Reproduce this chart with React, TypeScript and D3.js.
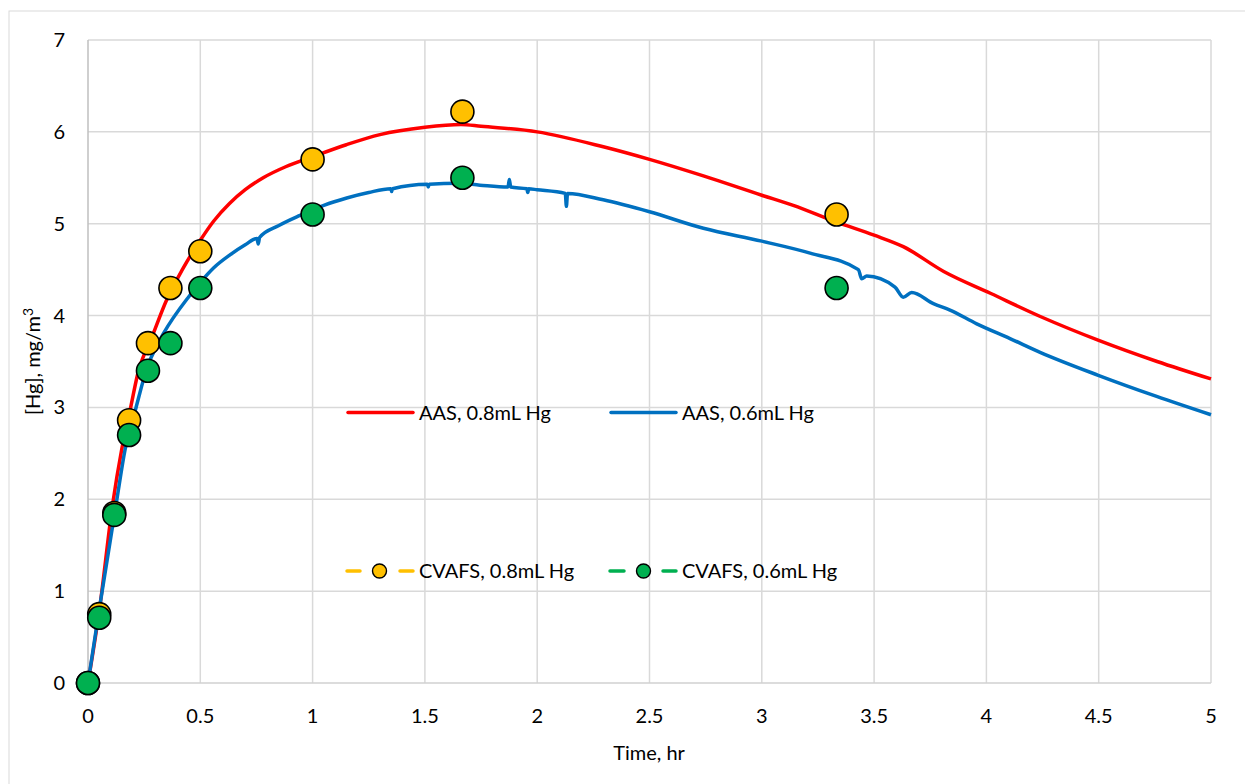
import React from "react";
import * as d3 from "d3";

// AAS continuous traces (time in hours, concentration in mg/m3)
const aas08Time = [0, 0.05, 0.11, 0.15, 0.19, 0.22, 0.29, 0.35, 0.42, 0.5, 0.56, 0.63, 0.7, 0.78, 0.88, 0.99, 1.15, 1.3, 1.5, 1.66, 1.75, 2.0, 2.29, 2.5, 2.74, 3.0, 3.14, 3.33, 3.5, 3.63, 3.81, 4.02, 4.24, 4.5, 4.76, 5.0];
const aas08Conc = [0, 0.78, 1.95, 2.54, 3.0, 3.35, 3.8, 4.17, 4.5, 4.82, 5.03, 5.22, 5.37, 5.5, 5.62, 5.72, 5.86, 5.97, 6.05, 6.08, 6.06, 6.0, 5.84, 5.7, 5.52, 5.31, 5.2, 5.02, 4.875, 4.75, 4.48, 4.24, 3.99, 3.73, 3.5, 3.31];

const aas06Time = [0, 0.05, 0.128, 0.165, 0.214, 0.264, 0.313, 0.335, 0.447, 0.5, 0.56, 0.632, 0.7, 0.752, 0.758, 0.764, 0.85, 0.944, 1.05, 1.152, 1.25, 1.348, 1.352, 1.356, 1.511, 1.515, 1.519, 1.65, 1.745, 1.87, 1.876, 1.882, 1.954, 1.958, 1.962, 2.0, 2.125, 2.13, 2.135, 2.294, 2.5, 2.74, 3.0, 3.215, 3.43, 3.445, 3.467, 3.593, 3.63, 3.667, 3.764, 3.838, 3.957, 4.105, 4.239, 4.498, 4.758, 5.0];
const aas06Conc = [0, 0.8, 1.99, 2.54, 3.0, 3.44, 3.7, 3.8, 4.2, 4.36, 4.52, 4.66, 4.77, 4.84, 4.78, 4.85, 4.98, 5.09, 5.2, 5.28, 5.34, 5.38, 5.35, 5.38, 5.43, 5.40, 5.43, 5.44, 5.42, 5.40, 5.48, 5.40, 5.38, 5.34, 5.38, 5.37, 5.33, 5.19, 5.33, 5.26, 5.13, 4.95, 4.81, 4.68, 4.5, 4.4, 4.43, 4.31, 4.2, 4.25, 4.13, 4.06, 3.91, 3.75, 3.60, 3.35, 3.12, 2.92];

// CVAFS grab samples
const cvafsTime = [0, 0.05, 0.117, 0.183, 0.267, 0.367, 0.5, 1.0, 1.667, 3.333];
const cvafs08Conc = [0, 0.75, 1.85, 2.86, 3.7, 4.3, 4.7, 5.7, 6.22, 5.1];
const cvafs06Time = [0, 0.05, 0.117, 0.183, 0.267, 0.367, 0.5, 1.0, 1.667, 3.333];
const cvafs06Conc = [0, 0.71, 1.83, 2.7, 3.4, 3.7, 4.3, 5.1, 5.5, 4.3];

const xTicks = [0, 0.5, 1, 1.5, 2, 2.5, 3, 3.5, 4, 4.5, 5];
const yTicks = [0, 1, 2, 3, 4, 5, 6, 7];

const W = 1245;
const H = 784;
const FONT = "Lato, 'Open Sans', sans-serif";
const FS = 20;

export default function App() {
  const x = d3.scaleLinear().domain([0, 5]).range([88, 1211]);
  const y = d3.scaleLinear().domain([0, 7]).range([683, 40]);

  const line = d3
    .line<[number, number]>()
    .x((d) => x(d[0]))
    .y((d) => y(d[1]))
    .curve(d3.curveMonotoneX);

  const red = line(aas08Time.map((t, i) => [t, aas08Conc[i]] as [number, number])) || "";
  const blue = line(aas06Time.map((t, i) => [t, aas06Conc[i]] as [number, number])) || "";

  const orange = "#FFC000";
  const green = "#00B050";

  return (
    <svg
      width={W}
      height={H}
      style={{ position: "absolute", left: 0, top: 0, background: "#fff" }}
      fontFamily={FONT}
    >
      <rect x={9} y={11} width={W + 10} height={H + 10} fill="#fff" stroke="#d9d9d9" strokeWidth={1} />

      {/* gridlines */}
      {xTicks.filter((t) => t > 0).map((t) => (
        <line key={"gx" + t} x1={x(t)} x2={x(t)} y1={y(7)} y2={y(0)} stroke="#d9d9d9" strokeWidth={1.5} />
      ))}
      {yTicks.filter((t) => t > 0).map((t) => (
        <line key={"gy" + t} x1={x(0)} x2={x(5)} y1={y(t)} y2={y(t)} stroke="#d9d9d9" strokeWidth={1.5} />
      ))}
      <line x1={x(0)} x2={x(5)} y1={y(0)} y2={y(0)} stroke="#d0d0d0" strokeWidth={1.5} />
      <line x1={x(0)} x2={x(0)} y1={y(7)} y2={y(0)} stroke="#bfbfbf" strokeWidth={1.5} />

      {/* tick labels */}
      {yTicks.map((t) => (
        <text key={"ty" + t} x={65} y={y(t)} dy="0.35em" textAnchor="end" fontSize={FS} fill="#000">
          {t}
        </text>
      ))}
      {xTicks.map((t) => (
        <text key={"tx" + t} x={x(t)} y={716} dy="0.35em" textAnchor="middle" fontSize={FS} fill="#000">
          {t}
        </text>
      ))}

      {/* axis titles */}
      <text x={649} y={753} dy="0.35em" textAnchor="middle" fontSize={FS} fill="#000">
        Time, hr
      </text>
      <text transform={`translate(33, ${(y(0) + y(7)) / 2}) rotate(-90)`} textAnchor="middle" dy="0.35em" fontSize={FS} fill="#000">
        [Hg], mg/m<tspan dy="-7" fontSize={14}>3</tspan>
      </text>

      {/* AAS traces */}
      <path d={red} fill="none" stroke="#FF0000" strokeWidth={3.5} strokeLinejoin="round" />
      <path d={blue} fill="none" stroke="#0070C0" strokeWidth={3.5} strokeLinejoin="round" />

      {/* CVAFS samples */}
      {cvafsTime.map((t, i) => (
        <circle key={"o" + i} cx={x(t)} cy={y(cvafs08Conc[i])} r={11.5} fill={orange} stroke="#000" strokeWidth={1.6} />
      ))}
      {cvafs06Time.map((t, i) => (
        <circle key={"g" + i} cx={x(t)} cy={y(cvafs06Conc[i])} r={11.5} fill={green} stroke="#000" strokeWidth={1.6} />
      ))}

      {/* legend */}
      <g fontSize={FS} fill="#000">
        <line x1={348} x2={413} y1={412.5} y2={412.5} stroke="#FF0000" strokeWidth={3.5} strokeLinecap="round" />
        <text x={419} y={412.5} dy="0.35em">AAS, 0.8mL Hg</text>
        <line x1={611} x2={676} y1={412.5} y2={412.5} stroke="#0070C0" strokeWidth={3.5} strokeLinecap="round" />
        <text x={682} y={412.5} dy="0.35em">AAS, 0.6mL Hg</text>

        <line x1={347} x2={360} y1={571} y2={571} stroke={orange} strokeWidth={3.5} strokeLinecap="round" />
        <line x1={400} x2={413} y1={571} y2={571} stroke={orange} strokeWidth={3.5} strokeLinecap="round" />
        <circle cx={379.5} cy={571} r={7} fill={orange} stroke="#000" strokeWidth={1.4} />
        <text x={419} y={571} dy="0.35em">CVAFS, 0.8mL Hg</text>

        <line x1={610} x2={624} y1={571} y2={571} stroke={green} strokeWidth={3.5} strokeLinecap="round" />
        <line x1={663} x2={676} y1={571} y2={571} stroke={green} strokeWidth={3.5} strokeLinecap="round" />
        <circle cx={643.5} cy={571} r={7} fill={green} stroke="#000" strokeWidth={1.4} />
        <text x={682} y={571} dy="0.35em">CVAFS, 0.6mL Hg</text>
      </g>
    </svg>
  );
}
